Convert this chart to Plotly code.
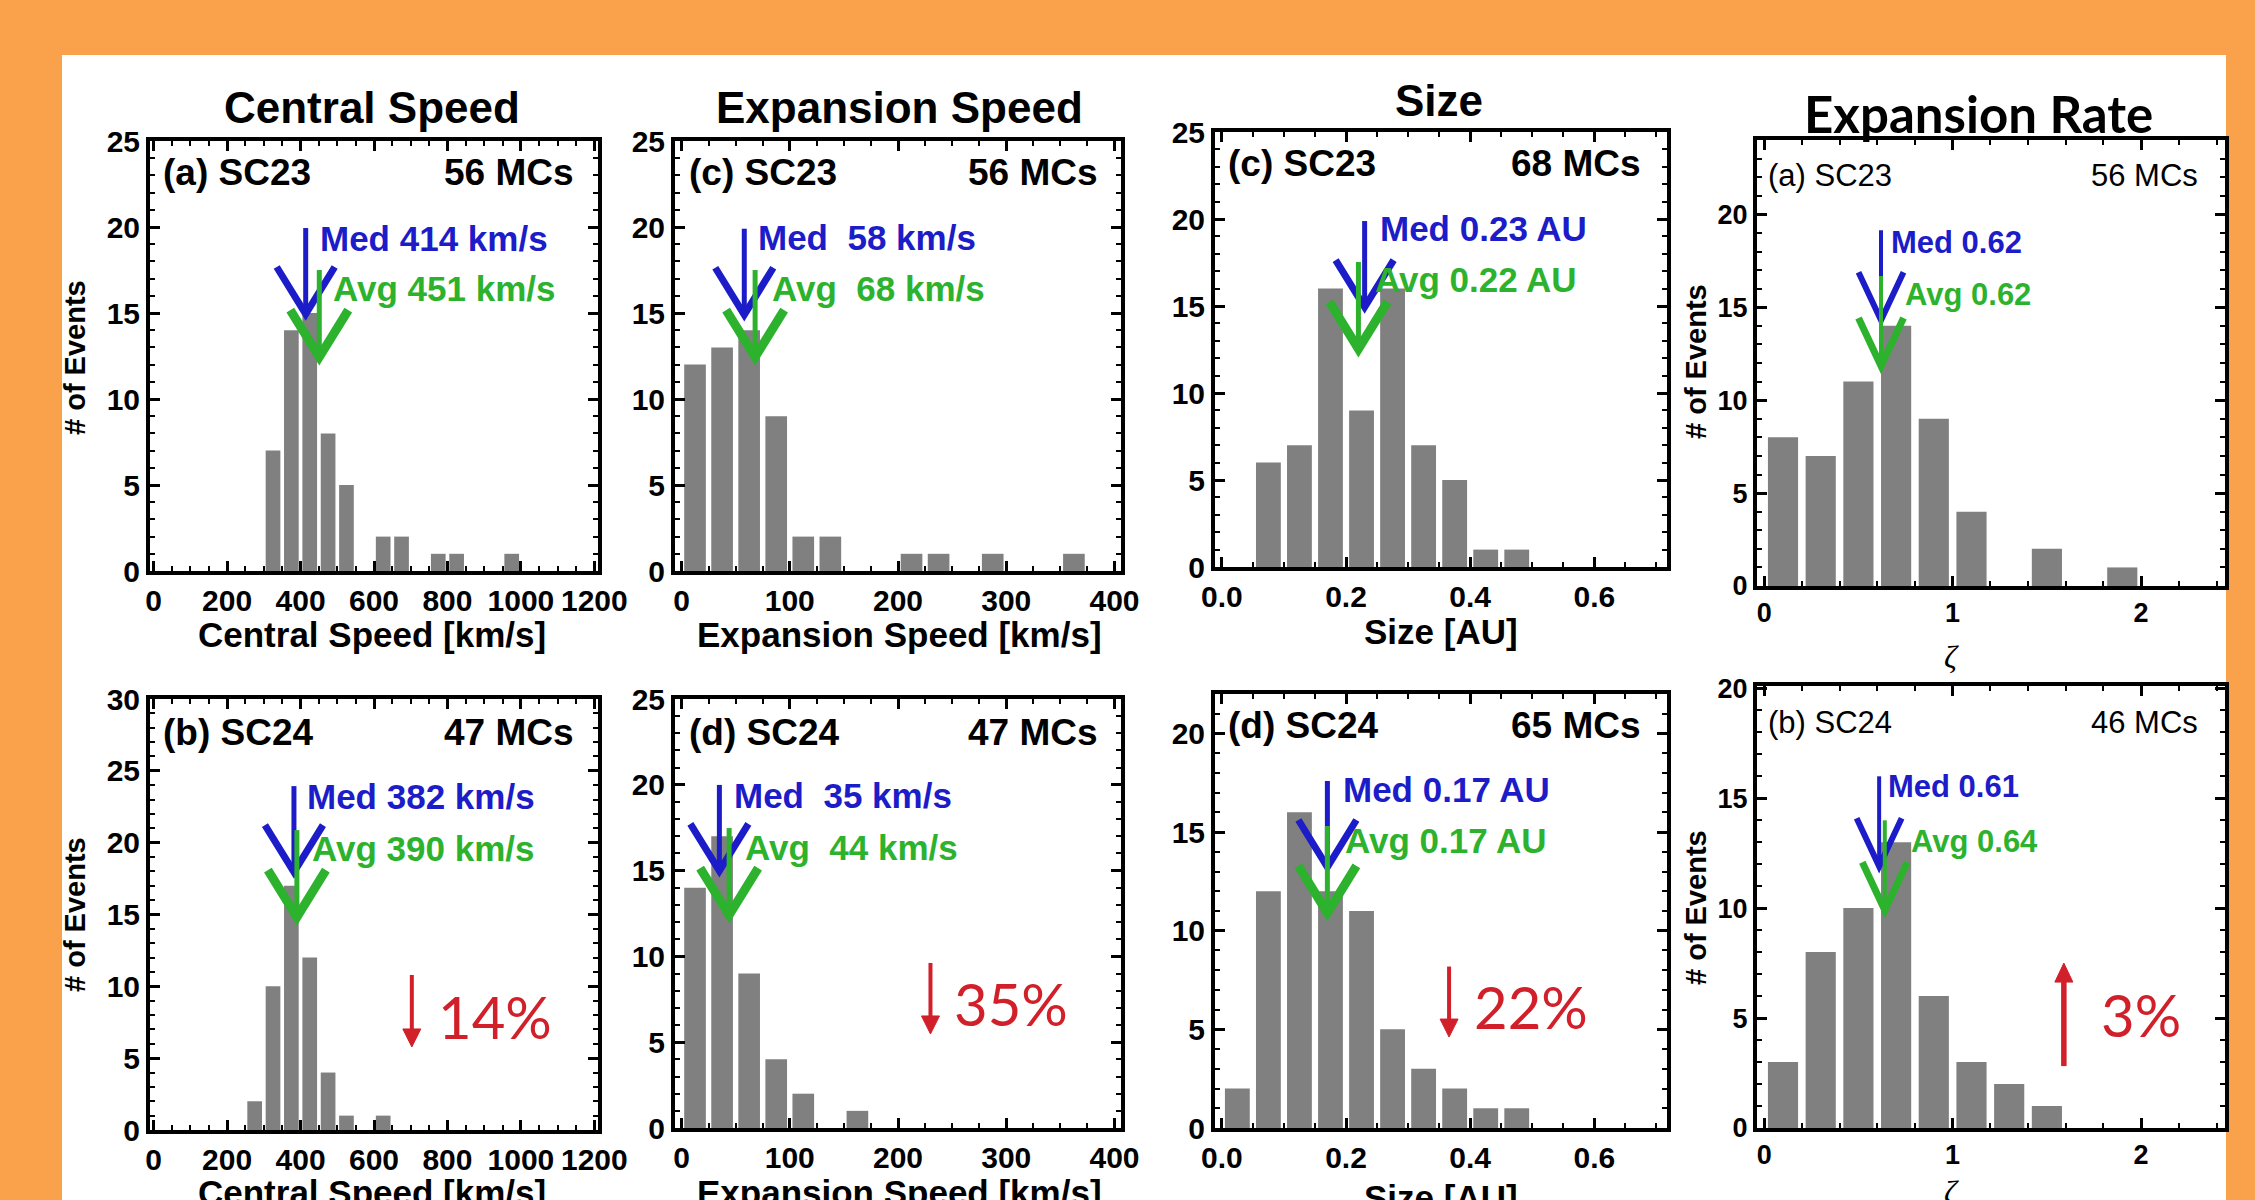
import plotly.graph_objects as go

# ---------------- data ----------------
cs_sc23_centers = [325, 375, 425, 475, 525, 625, 675, 775, 825, 975]
cs_sc23_counts = [7, 14, 15, 8, 5, 2, 2, 1, 1, 1]
cs_sc24_centers = [275, 325, 375, 425, 475, 525, 625]
cs_sc24_counts = [2, 10, 17, 12, 4, 1, 1]

es_sc23_centers = [12.5, 37.5, 62.5, 87.5, 112.5, 137.5, 212.5, 237.5, 287.5, 362.5]
es_sc23_counts = [12, 13, 14, 9, 2, 2, 1, 1, 1, 1]
es_sc24_centers = [12.5, 37.5, 62.5, 87.5, 112.5, 162.5]
es_sc24_counts = [14, 17, 9, 4, 2, 1]

size_sc23_centers = [0.075, 0.125, 0.175, 0.225, 0.275, 0.325, 0.375, 0.425, 0.475]
size_sc23_counts = [6, 7, 16, 9, 16, 7, 5, 1, 1]
size_sc24_centers = [0.025, 0.075, 0.125, 0.175, 0.225, 0.275, 0.325, 0.375, 0.425, 0.475]
size_sc24_counts = [2, 12, 16, 12, 11, 5, 3, 2, 1, 1]

rate_sc23_centers = [0.1, 0.3, 0.5, 0.7, 0.9, 1.1, 1.5, 1.9]
rate_sc23_counts = [8, 7, 11, 14, 9, 4, 2, 1]
rate_sc24_centers = [0.1, 0.3, 0.5, 0.7, 0.9, 1.1, 1.3, 1.5]
rate_sc24_counts = [3, 8, 10, 13, 6, 3, 2, 1]

medians = [414, 382, 58, 35, 0.23, 0.17, 0.62, 0.61]
averages = [451, 390, 68, 44, 0.22, 0.17, 0.62, 0.64]
med_labels = ["Med 414 km/s", "Med 382 km/s", "Med  58 km/s", "Med  35 km/s",
              "Med 0.23 AU", "Med 0.17 AU", "Med 0.62", "Med 0.61"]
avg_labels = ["Avg 451 km/s", "Avg 390 km/s", "Avg  68 km/s", "Avg  44 km/s",
              "Avg 0.22 AU", "Avg 0.17 AU", "Avg 0.62", "Avg 0.64"]
panel_tags = ["(a) SC23", "(b) SC24", "(c) SC23", "(d) SC24",
              "(c) SC23", "(d) SC24", "(a) SC23", "(b) SC24"]
mc_counts = ["56 MCs", "47 MCs", "56 MCs", "47 MCs", "68 MCs", "65 MCs", "56 MCs", "46 MCs"]
change_labels = ["14%", "35%", "22%", "3%"]
column_titles = ["Central Speed", "Expansion Speed", "Size", "Expansion Rate"]
x_titles = ["Central Speed [km/s]", "Expansion Speed [km/s]", "Size [AU]", "ζ"]

# ---------------- style / layout ----------------
W, H = 2255, 1200
ORANGE = "#F9A24B"
GRAY = "#808080"
BLUE = "#1C1CC8"
GREEN = "#2DB22D"
RED = "#D2202A"
ARIAL = "Liberation Sans, Arial, Helvetica, sans-serif"
LATO = "Lato, Open Sans, sans-serif"
SERIF = "Liberation Serif, DejaVu Serif, serif"

centers = [cs_sc23_centers, cs_sc24_centers, es_sc23_centers, es_sc24_centers,
           size_sc23_centers, size_sc24_centers, rate_sc23_centers, rate_sc24_centers]
counts = [cs_sc23_counts, cs_sc24_counts, es_sc23_counts, es_sc24_counts,
          size_sc23_counts, size_sc24_counts, rate_sc23_counts, rate_sc24_counts]

# per-panel layout: pixel box (left, top, right, bottom), ranges, ticks
P = [
    dict(box=(150, 141, 598, 571), xr=[-10, 1210], yr=[0, 25], binw=50, xdt=200, xmin=50, col=0),
    dict(box=(150, 699, 598, 1130), xr=[-10, 1210], yr=[0, 30], binw=50, xdt=200, xmin=50, col=0),
    dict(box=(675, 141, 1121, 571), xr=[-6, 406], yr=[0, 25], binw=25, xdt=100, xmin=25, col=1),
    dict(box=(675, 699, 1121, 1128), xr=[-6, 406], yr=[0, 25], binw=25, xdt=100, xmin=25, col=1),
    dict(box=(1215, 132, 1667, 567), xr=[-0.011, 0.717], yr=[0, 25], binw=0.05, xdt=0.2, xmin=0.05, col=2),
    dict(box=(1215, 694, 1667, 1128), xr=[-0.011, 0.717], yr=[0, 22], binw=0.05, xdt=0.2, xmin=0.05, col=2),
    dict(box=(1757, 140, 2225, 586), xr=[-0.038, 2.445], yr=[0, 24], binw=0.2, xdt=1, xmin=0.2, col=3),
    dict(box=(1757, 686, 2225, 1128), xr=[-0.038, 2.445], yr=[0, 20.1], binw=0.2, xdt=1, xmin=0.2, col=3),
]
# label placement (data-y of Med/Avg text, x shift in px)
med_text = [(19.36, 12), (23.24, 11), (19.4, 11.5), (19.35, 12.5), (19.48, 13), (17.18, 13.5), (18.46, 8), (15.55, 7)]
avg_text = [(16.40, 12), (19.62, 13), (16.4, 15), (16.32, 14), (16.5, 15), (14.55, 16), (15.66, 22), (13.05, 24)]
# arrow tips (data y)
med_tip = [14.94, 17.95, 14.9, 14.98, 14.94, 13.23, 14.3, 11.9]
avg_tip = [12.44, 14.82, 12.44, 12.41, 12.53, 10.9, 11.84, 9.9]
# corner label offsets (left px, top px, right px)
corner = [(11, 32, 22), (11, 33, 22), (12, 32, 21), (12, 33, 21),
          (11, 32, 24), (11, 31, 24), (9, 35, 25), (9, 36, 25)]
# red change arrows: panel index, x (data), tip y (data), length px, direction, text shift, text y
red = [(1, 703, 5.78, 72, -1, 24, 7.93), (3, 230, 5.48, 71, -1, 21.5, 7.28),
       (5, 0.366, 4.61, 70.5, -1, 23, 6.18), (7, 1.59, 7.5, 103, 1, 35.6, 5.14)]


def X(px):
    return px / W


def Y(py):
    return 1 - py / H


fig = go.Figure()
layout = dict(template="none", width=W, height=H, autosize=False,
              margin=dict(l=0, r=0, t=0, b=0, pad=0, autoexpand=False),
              font=dict(family=ARIAL, color="black"),
              paper_bgcolor=ORANGE, plot_bgcolor="white", barmode="overlay", showlegend=False)
shapes = [dict(type="rect", xref="paper", yref="paper", x0=X(62), x1=X(2226), y0=0, y1=Y(55),
               fillcolor="white", line=dict(width=0), layer="below")]
annotations = []

for i, p in enumerate(P):
    n = i + 1
    xid = "x" if n == 1 else f"x{n}"
    yid = "y" if n == 1 else f"y{n}"
    l, t, r, b = p["box"]
    c4 = p["col"] == 3
    tick_font = dict(family=ARIAL, size=27 if c4 else 30, color="black", weight="bold")
    common = dict(showline=True, linewidth=4, linecolor="black", mirror="allticks",
                  ticks="inside", ticklen=10, tickwidth=3, tickcolor="black", automargin=False,
                  showgrid=False, zeroline=False, tickfont=tick_font, fixedrange=True)
    layout["xaxis" if n == 1 else f"xaxis{n}"] = dict(
        domain=[X(l), X(r)], range=p["xr"], anchor=yid, dtick=p["xdt"], tick0=0,
        tickformat=".1f" if p["col"] == 2 else "d",
        minor=dict(ticks="inside", ticklen=5, tickwidth=2, dtick=p["xmin"], tick0=0, tickcolor="black"),
        **common)
    layout["yaxis" if n == 1 else f"yaxis{n}"] = dict(
        domain=[Y(b), Y(t)], range=p["yr"], anchor=xid, dtick=5, tick0=0,
        minor=dict(ticks="inside", ticklen=5, tickwidth=2, dtick=1, tick0=0, tickcolor="black"),
        **common)

    fig.add_trace(go.Bar(x=centers[i], y=counts[i], width=p["binw"] * 0.8,
                         marker=dict(color=GRAY, line=dict(width=0)),
                         xaxis=xid, yaxis=yid, hoverinfo="skip"))

    # corner labels
    dl, dt, dr = corner[i]
    cfont = dict(family=ARIAL, size=31 if c4 else 37, color="black", weight="normal" if c4 else "bold")
    annotations.append(dict(text=panel_tags[i], xref=f"{xid} domain", yref=f"{yid} domain", x=0, y=1,
                            xanchor="left", yanchor="middle", xshift=dl, yshift=-dt, showarrow=False, font=cfont))
    annotations.append(dict(text=mc_counts[i], xref=f"{xid} domain", yref=f"{yid} domain", x=1, y=1,
                            xanchor="right", yanchor="middle", xshift=-dr, yshift=-dt, showarrow=False, font=cfont))

    # median / average labels
    tsize = 31 if c4 else 35
    annotations.append(dict(text=med_labels[i], xref=xid, yref=yid, x=medians[i], y=med_text[i][0],
                            xanchor="left", yanchor="middle", xshift=med_text[i][1], showarrow=False,
                            font=dict(family=ARIAL, size=tsize, color=BLUE, weight="bold")))
    annotations.append(dict(text=avg_labels[i], xref=xid, yref=yid, x=averages[i], y=avg_text[i][0],
                            xanchor="left", yanchor="middle", xshift=avg_text[i][1], showarrow=False,
                            font=dict(family=ARIAL, size=tsize, color=GREEN, weight="bold")))

    # median / average arrows (open V heads), pixel-sized around the value
    if c4:
        geo_b = (90, 48, 22.5, 4, 6)
        geo_g = (90, 48, 22.5, 4, 7)
    else:
        geo_b = (86, 47, 29, 5, 7)
        geo_g = (87, 47, 29, 5, 9)
    for val, tip, col, (stem, drop, half, lw1, lw2) in [(medians[i], med_tip[i], BLUE, geo_b),
                                                        (averages[i], avg_tip[i], GREEN, geo_g)]:
        base = dict(type="path", xref=xid, yref=yid, xsizemode="pixel", ysizemode="pixel",
                    xanchor=val, yanchor=tip, layer="above")
        shapes.append(dict(base, path=f"M0,0 L0,{stem}", line=dict(color=col, width=lw1)))
        shapes.append(dict(base, path=f"M{-half},{drop} L0,0 L{half},{drop}", line=dict(color=col, width=lw2)))

# red percentage-change arrows
for k, (pi, xv, tip, ln, d, tsh, ty) in enumerate(red):
    n = pi + 1
    xid = "x" if n == 1 else f"x{n}"
    yid = "y" if n == 1 else f"y{n}"
    base = dict(type="path", xref=xid, yref=yid, xsizemode="pixel", ysizemode="pixel",
                xanchor=xv, yanchor=tip, layer="above")
    s = -d  # body extends opposite to direction
    hw, hh = (9, 18) if d < 0 else (9, 19)
    shapes.append(dict(base, path=f"M0,{s * (hh - 2)} L0,{s * ln}",
                       line=dict(color=RED, width=4 if d < 0 else 5.5)))
    shapes.append(dict(base, path=f"M0,0 L{-hw},{s * hh} L{hw},{s * hh} Z",
                       fillcolor=RED, line=dict(color=RED, width=1)))
    annotations.append(dict(text=change_labels[k], xref=xid, yref=yid, x=xv, y=ty,
                            xanchor="left", yanchor="middle", xshift=tsh, showarrow=False,
                            font=dict(family=LATO, size=58, color=RED)))

# column titles
title_pos = [(372, 108), (899, 108), (1439, 100), (1978, 114)]
for j, (tx, ty) in enumerate(title_pos):
    f = dict(family=LATO if j == 3 else ARIAL, size=51 if j == 3 else 44, color="black", weight="bold")
    annotations.append(dict(text=column_titles[j], xref="paper", yref="paper", x=X(tx), y=Y(ty),
                            xanchor="center", yanchor="middle", showarrow=False, font=f))

# x axis titles
xt_pos = [[(372, 634), (372, 1192)], [(899, 634), (899, 1192)],
          [(1441, 632), (1441, 1197)], [(1951, 657), (1951, 1192)]]
for j in range(4):
    for (tx, ty) in xt_pos[j]:
        if j == 3:
            f = dict(family=SERIF, size=32, color="black", style="italic")
        else:
            f = dict(family=ARIAL, size=35, color="black", weight="bold")
        annotations.append(dict(text=x_titles[j], xref="paper", yref="paper", x=X(tx), y=Y(ty),
                                xanchor="center", yanchor="middle", showarrow=False, font=f))

# y axis titles
for (tx, ty) in [(75, 358), (75, 915), (1696, 362), (1696, 908)]:
    annotations.append(dict(text="# of Events", xref="paper", yref="paper", x=X(tx), y=Y(ty),
                            xanchor="center", yanchor="middle", textangle=-90, showarrow=False,
                            font=dict(family=ARIAL, size=29, color="black", weight="bold")))

layout["shapes"] = shapes
layout["annotations"] = annotations
fig.update_layout(**layout)
fig.write_html(
    "out.html",
    config={"displayModeBar": False, "responsive": False},
    post_script=("document.documentElement.style.margin='0';document.body.style.margin='0';"
                 "document.documentElement.style.overflow='hidden';document.body.style.overflow='hidden';"),
)
